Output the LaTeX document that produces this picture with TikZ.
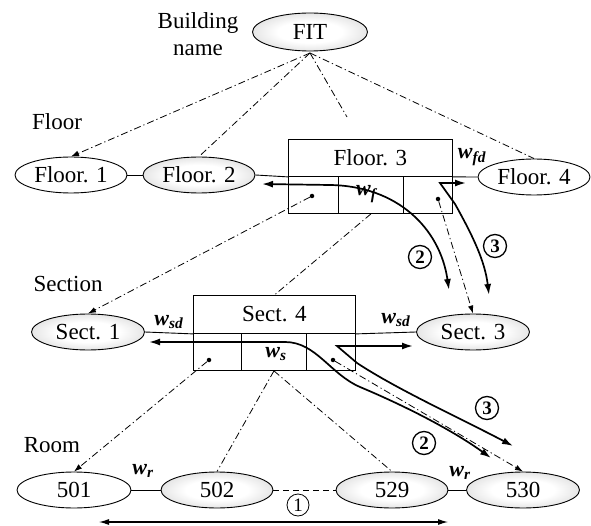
\documentclass[tikz,border=0pt]{standalone}
\usepackage{fontspec}
\setmainfont{Liberation Serif}
\usetikzlibrary{shapes.geometric,arrows.meta}
\newcommand{\wlab}[2]{\textbf{\textit{#1}}\textsubscript{\textbf{\textit{#2}}}}
% soft grey rim, white centre
\pgfdeclareradialshading{ellshade}{\pgfpoint{0bp}{0bp}}{%
  color(0bp)=(white); color(14bp)=(white); color(24bp)=(gray!18);
  color(32bp)=(gray!42); color(50bp)=(gray!45)}
\tikzset{
  ell/.style={ellipse, draw, line width=0.9pt, inner sep=0pt,
    minimum width=112pt, minimum height=36pt, font=\fontsize{23}{24}\selectfont},
  shadedell/.style={ell, shading=ellshade},
  boxpart/.style={draw, line width=0.9pt, inner sep=0pt, anchor=north west,
    font=\fontsize{23}{24}\selectfont},
  dd/.style={line width=0.8pt, dash pattern=on 7pt off 3pt on 1.2pt off 3pt},
  ddarr/.style={dd, -{Latex[length=8pt,width=5.5pt]}},
  plain/.style={line width=0.9pt},
  route/.style={line width=1.7pt, {Latex[length=11pt,width=7pt]}-{Latex[length=11pt,width=7pt]}},
  dotn/.style={circle, fill, inner sep=0pt, minimum size=4.5pt},
  lvl/.style={font=\fontsize{23}{27}\selectfont, align=center, inner sep=1pt},
  wl/.style={font=\fontsize{22}{22}\selectfont, inner sep=0pt},
  circnum/.style={circle, draw, line width=1.3pt, inner sep=0pt, minimum size=23pt,
    font=\fontsize{19}{19}\selectfont\bfseries},
  circthin/.style={circle, draw, line width=0.8pt, inner sep=0pt, minimum size=22pt,
    font=\fontsize{19}{19}\selectfont}
}
\begin{document}
\begin{tikzpicture}[x=1pt,y=-1pt]
\useasboundingbox (0,0) rectangle (591,526);

% level captions
\node[lvl] (lbuild) at (198,34) {Building\\name};
\node[lvl] (lfloor) at (57,122) {Floor};
\node[lvl] (lsect) at (68,284) {Section};
\node[lvl] (lroom) at (52,445) {Room};

% building
\node[shadedell, minimum width=115pt, minimum height=38pt] (fit) at (310,32) {FIT};

% floors
\node[ell] (f1) at (71,175) {Floor. 1};
\node[shadedell] (f2) at (199,175) {Floor. 2};
\node[boxpart, minimum width=164pt, minimum height=37pt] (f3) at (288,139) {Floor. 3};
\node[boxpart, minimum width=50pt, minimum height=37pt] (f3a) at (288,176) {};
\node[boxpart, minimum width=65pt, minimum height=37pt] (f3b) at (338,176) {};
\node[boxpart, minimum width=49pt, minimum height=37pt] (f3c) at (403,176) {};
\node[ell] (f4) at (534,177) {Floor. 4};

% sections
\node[shadedell, minimum width=113pt] (s1) at (88,332) {Sect. 1};
\node[boxpart, minimum width=162pt, minimum height=38pt] (s4) at (193,295) {Sect. 4};
\node[boxpart, minimum width=48pt, minimum height=37pt] (s4a) at (193,333) {};
\node[boxpart, minimum width=65pt, minimum height=37pt] (s4b) at (241,333) {};
\node[boxpart, minimum width=49pt, minimum height=37pt] (s4c) at (306,333) {};
\node[shadedell, minimum width=113pt] (s3) at (473,332) {Sect. 3};

% rooms
\node[ell, minimum width=114pt] (r1) at (74,490) {501};
\node[shadedell] (r2) at (217,490) {502};
\node[shadedell] (r29) at (392,490) {529};
\node[shadedell, minimum width=113pt] (r30) at (523,490) {530};

% dots in the cells
\node[dotn] (d1) at (312,196) {};
\node[dotn] (d2) at (438,199) {};
\node[dotn] (d3) at (209,360) {};
\node[dotn] (d4) at (333,360) {};

% adjacency links
\draw[plain] (f1.east) -- (f2.west);
\draw[plain] (f2.east) -- (f3.south west);
\draw[plain] (f3.south east) -- (f4.west);
\draw[plain] (s1.east) -- (s4.south west);
\draw[plain] (s4.south east) -- (s3.west);
\draw[plain] (r1.east) -- (r2.west);
\draw[plain, dash pattern=on 6pt off 4pt] (r2.east) -- (r29.west);
\draw[plain] (r29.east) -- (r30.west);

% hierarchy links
\coordinate (fitb) at (310,53);
\coordinate (f3up) at (347,117);
\draw[ddarr] (fitb) -- (f1.north);
\draw[dd] (fitb) -- (f2.north);
\draw[dd] (fitb) -- (f3up);
\draw[dd] (fitb) -- (f4.north);
\draw[ddarr] (d1) -- (s1.north);
\draw[dd] (f3b.south) -- (s4.north);
\draw[ddarr] (d2) -- (s3.north);
\draw[ddarr] (d3) -- (r1.north);
\draw[dd] (s4b.south) -- (r2.north);
\draw[dd] (s4b.south) -- (r29.north);
\draw[ddarr] (d4) -- (r30.north);

% routes through the floor
\coordinate (fa) at (262,184);
\coordinate (fb) at (449,290);
\draw[route] (fa) -- (330,185) .. controls (397,186) and (440,228) .. (fb);
\coordinate (fc) at (466,183);
\coordinate (fd) at (489,295);
\draw[route] (fc) -- (440,183) -- (455,204) .. controls (474,238) and (485,262) .. (fd);

% routes through the section
\coordinate (sa) at (149,342);
\coordinate (sb) at (491,458);
\draw[route] (sa) -- (285,342) .. controls (316,342) and (330,374) .. (360,387)
  .. controls (410,408) and (455,432) .. (sb);
\coordinate (sc) at (413,346);
\coordinate (sd) at (513,446);
\draw[route] (sc) -- (337,346) -- (357,363) .. controls (398,390) and (460,418) .. (sd);

% route along the room row
\coordinate (ra) at (99,522);
\coordinate (rb) at (448,522);
\draw[line width=1.1pt, {Latex[length=10pt,width=6pt]}-{Latex[length=10pt,width=6pt]}] (ra) -- (rb);

% route numbers
\node[circthin] (n1) at (298,505) {1};
\node[circnum] (n2f) at (420,257) {2};
\node[circnum] (n3f) at (495,246) {3};
\node[circnum] (n2s) at (424,443) {2};
\node[circnum] (n3s) at (487,408) {3};

% weights
\node[wl] (wfd) at (472,157) {\wlab{w}{fd}};
\node[wl] (wf) at (367,194) {\wlab{w}{f}};
\node[wl] (wsd1) at (169,322) {\wlab{w}{sd}};
\node[wl] (wsd2) at (396,320) {\wlab{w}{sd}};
\node[wl] (ws) at (276,354) {\wlab{w}{s}};
\node[wl] (wr1) at (143,471) {\wlab{w}{r}};
\node[wl] (wr2) at (460,473) {\wlab{w}{r}};
\end{tikzpicture}
\end{document}
